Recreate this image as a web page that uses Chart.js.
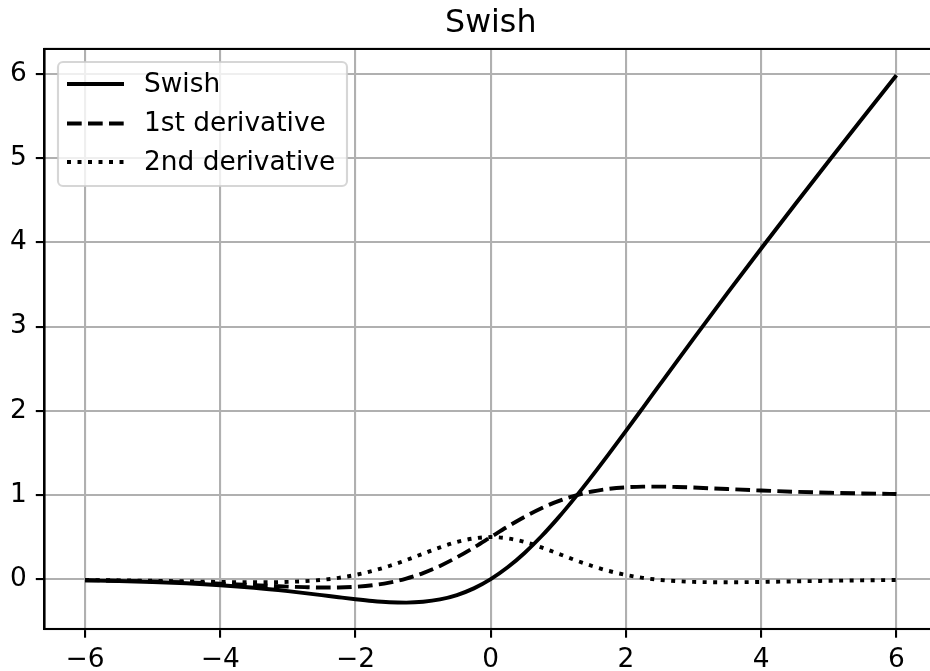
<!DOCTYPE html>
<html>
<head>
<meta charset="utf-8">
<script src="https://cdn.jsdelivr.net/npm/chart.js@4/dist/chart.umd.min.js"></script>
<style>
  html, body { margin: 0; padding: 0; background: #fff; overflow: hidden; }
  #wrap { width: 937px; height: 671px; }
</style>
</head>
<body>
<div id="wrap"><canvas id="chart" width="937" height="671"></canvas></div>
<script>
const titleText = "Swish"
const seriesLabels = ["Swish", "1st derivative", "2nd derivative"]

const xs = [-6, -5.5, -5, -4.5, -4, -3.5, -3, -2.75, -2.5, -2.25, -2, -1.75, -1.5, -1.25, -1, -0.75, -0.5, -0.25,
  0, 0.25, 0.5, 0.75, 1, 1.25, 1.5, 1.75, 2, 2.25, 2.5, 2.75, 3, 3.5, 4, 4.5, 5, 5.5, 6]

const swish = [-0.0148, -0.0224, -0.0335, -0.0494, -0.0719, -0.1026, -0.1423, -0.1652, -0.1897, -0.2145, -0.2384,
  -0.2591, -0.2736, -0.2784, -0.2689, -0.2406, -0.1888, -0.1095,
  0, 0.1405, 0.3112, 0.5094, 0.7311, 0.9716, 1.2264, 1.4909, 1.7616, 2.0355, 2.3104, 2.5848, 2.8577,
  3.3974, 3.9281, 4.4506, 4.9665, 5.4776, 5.9852]

const firstDeriv = [-0.0123, -0.0182, -0.0266, -0.0379, -0.0527, -0.0703, -0.0881, -0.0952, -0.0994, -0.0987, -0.0908,
  -0.0727, -0.0413, 0.0063, 0.0723, 0.1574, 0.2600, 0.3763,
  0.5, 0.6237, 0.7400, 0.8426, 0.9277, 0.9937, 1.0413, 1.0727, 1.0908, 1.0987, 1.0994, 1.0952, 1.0881,
  1.0703, 1.0527, 1.0379, 1.0266, 1.0182, 1.0123]

const secondDeriv = [-0.0098, -0.0140, -0.0195, -0.0261, -0.0328, -0.0368, -0.0323, -0.0237, -0.0085, 0.0154, 0.0501,
  0.0969, 0.1562, 0.2262, 0.3024, 0.3772, 0.4412, 0.4846,
  0.5, 0.4846, 0.4412, 0.3772, 0.3024, 0.2262, 0.1562, 0.0969, 0.0501, 0.0154, -0.0085, -0.0237, -0.0323,
  -0.0368, -0.0328, -0.0261, -0.0195, -0.0140, -0.0098]

const xTicks = [-6, -4, -2, 0, 2, 4, 6]
const yTicks = [0, 1, 2, 3, 4, 5, 6]

const FONT = "'DejaVu Sans', sans-serif"
const dashes = [[], [14.7, 6.3], [4, 6.5]]

const toPoints = ys => xs.map((x, i) => ({ x: x, y: ys[i] }))
const minus = v => String(v).replace("-", "\u2212")

// spines + legend drawn on top, like matplotlib
const frameAndLegend = {
  id: "frameAndLegend",
  afterDraw(chart) {
    const { ctx, chartArea: a } = chart
    ctx.save()
    ctx.strokeStyle = "#000"
    ctx.lineWidth = 2.1
    ctx.strokeRect(a.left, a.top, a.right - a.left, a.bottom - a.top)

    // legend box
    const bx = 58, by = 62, bw = 289, bh = 124, r = 5
    ctx.beginPath()
    ctx.roundRect(bx, by, bw, bh, r)
    ctx.fillStyle = "rgba(255,255,255,0.8)"
    ctx.fill()
    ctx.strokeStyle = "rgba(204,204,204,0.8)"
    ctx.lineWidth = 2.1
    ctx.stroke()

    const rows = [84, 123.5, 162]
    ctx.font = "26.4px " + FONT
    ctx.textBaseline = "middle"
    ctx.fillStyle = "#000"
    seriesLabels.forEach((label, i) => {
      ctx.beginPath()
      ctx.setLineDash(dashes[i])
      ctx.lineWidth = 3.9
      ctx.lineCap = "butt"
      ctx.strokeStyle = "#000"
      ctx.moveTo(67, rows[i])
      ctx.lineTo(124, rows[i])
      ctx.stroke()
      ctx.setLineDash([])
      ctx.fillText(label, 144, rows[i] + 1)
    })
    ctx.restore()
  }
}

new Chart(document.getElementById("chart"), {
  type: "line",
  data: {
    datasets: [swish, firstDeriv, secondDeriv].map((ys, i) => ({
      label: seriesLabels[i],
      data: toPoints(ys),
      borderColor: "#000",
      borderWidth: 3.9,
      borderDash: dashes[i],
      borderCapStyle: "butt",
      pointRadius: 0,
      fill: false,
      cubicInterpolationMode: "monotone"
    }))
  },
  options: {
    responsive: false,
    animation: false,
    devicePixelRatio: 1,
    layout: { padding: 0 },
    plugins: {
      legend: { display: false },
      tooltip: { enabled: false },
      title: {
        display: true,
        fullSize: false,
        text: titleText,
        color: "#000",
        font: { family: FONT, size: 31.7, weight: "normal" },
        padding: { top: 5, bottom: 5.9 }
      }
    },
    scales: {
      x: {
        type: "linear",
        min: -6.6,
        max: 6.6,
        afterFit: s => { s.height = 42 },
        afterBuildTicks: s => { s.ticks = xTicks.map(v => ({ value: v })) },
        ticks: {
          callback: v => minus(v),
          color: "#000",
          font: { family: FONT, size: 26.4 },
          padding: 7,
          maxRotation: 0,
          autoSkip: false
        },
        grid: { color: "#b0b0b0", lineWidth: 2.1, tickColor: "#000", tickLength: 8.7, tickWidth: 2.1 },
        border: { color: "#000", width: 2.1 }
      },
      y: {
        min: -0.592,
        max: 6.298,
        afterFit: s => { s.width = 44.5 },
        afterBuildTicks: s => { s.ticks = yTicks.map(v => ({ value: v })) },
        ticks: {
          callback: v => minus(v),
          color: "#000",
          font: { family: FONT, size: 26.4 },
          padding: 9,
          autoSkip: false
        },
        grid: { color: "#b0b0b0", lineWidth: 2.1, tickColor: "#000", tickLength: 8.7, tickWidth: 2.1 },
        border: { color: "#000", width: 2.1 }
      }
    }
  },
  plugins: [frameAndLegend]
})
</script>
</body>
</html>
